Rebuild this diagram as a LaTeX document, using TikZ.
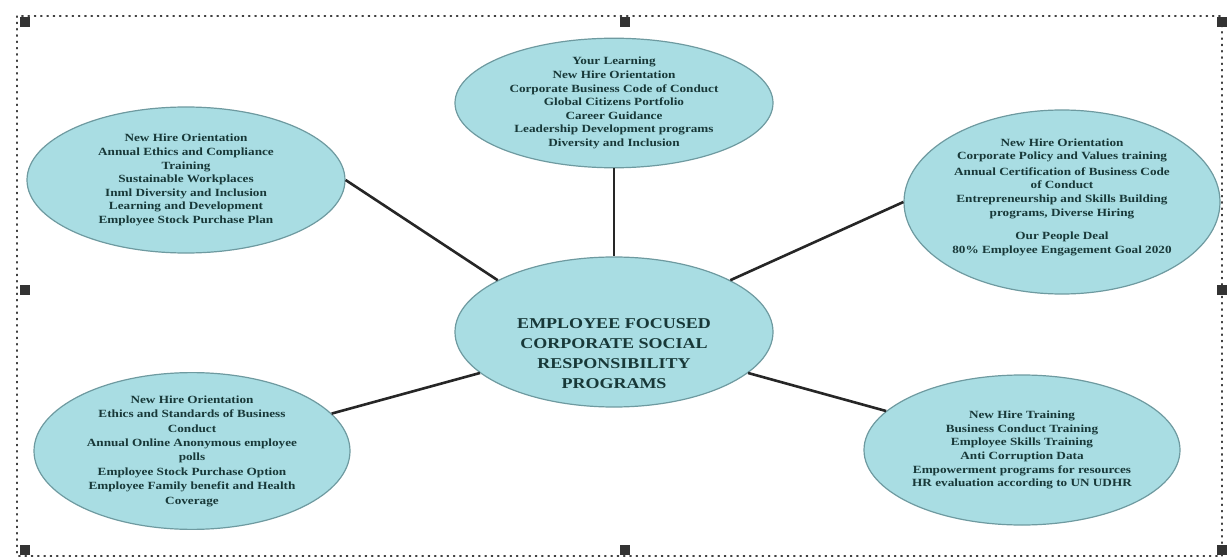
\documentclass[tikz,border=0pt]{standalone}
\usepackage{fontspec}
\setmainfont{Liberation Serif}[FakeStretch=1.2]
\usetikzlibrary{shapes.geometric}
\definecolor{bubble}{HTML}{A9DDE3}
\definecolor{bubbleline}{HTML}{6E9AA0}
\definecolor{txt}{HTML}{183838}
\tikzset{
  bub/.style={ellipse, draw=bubbleline, line width=1.2pt, fill=bubble, inner sep=0pt,
    align=center, text=txt, font=\bfseries\fontsize{11}{13.6}\selectfont},
  lbl/.style={align=center, text=txt, inner sep=0pt, font=\bfseries\fontsize{11}{13.6}\selectfont},
  link/.style={line width=2.6pt, draw=black!85},
  handle/.style={fill=black!80, minimum size=10pt, inner sep=0pt, draw=none},
}
\begin{document}
\begin{tikzpicture}[x=1pt,y=-1pt]
\useasboundingbox (0,0) rectangle (1227,559);
\fill[white] (0,0) rectangle (1227,559);
% selection frame
\draw[black!75, line width=1.3pt, dash pattern=on 1.3pt off 5pt, line cap=round] (17,16) rectangle (1222,556);
\node[handle] (h1) at (25,22) {};
\node[handle] (h2) at (625,22) {};
\node[handle] (h3) at (1222,22) {};
\node[handle] (h4) at (25,290) {};
\node[handle] (h5) at (1222,290) {};
\node[handle] (h6) at (25,550) {};
\node[handle] (h7) at (625,550) {};
\node[handle] (h8) at (1222,550) {};
% bubbles
\node[bub, minimum width=318pt, minimum height=128pt] (top) at (614,103)
  {Your Learning\\New Hire Orientation\\Corporate Business Code of Conduct\\Global Citizens Portfolio\\Career Guidance\\Leadership Development programs\\Diversity and Inclusion};
\node[bub, minimum width=318pt, minimum height=146pt] (lu) at (186,180)
  {New Hire Orientation\\Annual Ethics and Compliance\\Training\\Sustainable Workplaces\\Inml Diversity and Inclusion\\Learning and Development\\Employee Stock Purchase Plan};
\node[bub, minimum width=316pt, minimum height=184pt] (ru) at (1062,202) {};
\node[lbl] (rutext) at (1062,197)
  {New Hire Orientation\\Corporate Policy and Values training\\[2pt]Annual Certification of  Business Code\\of Conduct\\Entrepreneurship and Skills Building\\programs, Diverse Hiring\\[10pt]Our People Deal\\80\% Employee Engagement Goal 2020};
\node[bub, minimum width=318pt, minimum height=150pt] (c) at (614,332) {};
\node[lbl, font=\bfseries\fontsize{15}{20}\selectfont] (ctext) at (614,354)
  {EMPLOYEE FOCUSED\\CORPORATE SOCIAL\\RESPONSIBILITY\\PROGRAMS};
\node[bub, minimum width=316pt, minimum height=148pt, font=\bfseries\fontsize{11}{14.4}\selectfont] (ll) at (192,451)
  {New Hire Orientation\\Ethics and Standards of Business\\Conduct\\Annual Online Anonymous employee\\polls\\Employee Stock Purchase Option\\Employee Family benefit and Health\\Coverage};
\node[bub, minimum width=316pt, minimum height=150pt] (lr) at (1022,450)
  {New Hire Training\\Business Conduct Training\\Employee Skills Training\\Anti Corruption Data\\Empowerment programs for resources\\HR evaluation according to UN UDHR};
% connectors
\draw[link] (top.south) -- (c.north);
\draw[link] (lu.east) -- (c.156);
\draw[link] (ru.west) -- (c.24);
\draw[link] (ll.15) -- (c.197);
\draw[link] (lr.164) -- (c.343);
\end{tikzpicture}
\end{document}
